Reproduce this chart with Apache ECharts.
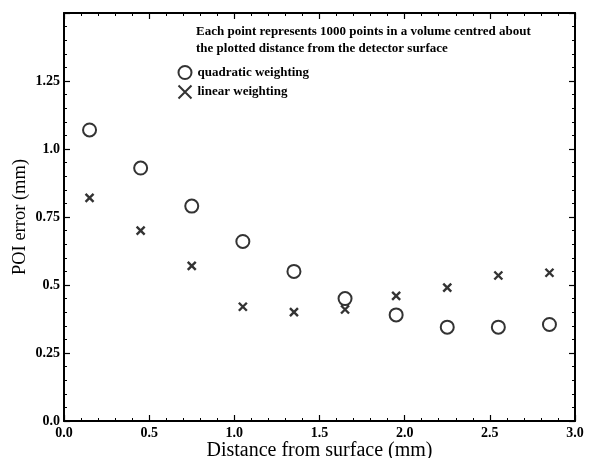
<!DOCTYPE html>
<html>
<head>
<meta charset="utf-8">
<script src="https://cdn.jsdelivr.net/npm/echarts@6/dist/echarts.min.js"></script>
<style>
  html, body { margin: 0; padding: 0; background: #fff; }
  #chart { width: 589px; height: 458px; }
</style>
</head>
<body>
<div id="chart"></div>
<script>
// 数据,照图读出来的
var distance = [0.15, 0.45, 0.75, 1.05, 1.35, 1.65, 1.95, 2.25, 2.55, 2.85];
var quadratic = [1.07, 0.93, 0.79, 0.66, 0.55, 0.45, 0.39, 0.345, 0.345, 0.355];
var linear = [0.82, 0.70, 0.57, 0.42, 0.40, 0.41, 0.46, 0.49, 0.535, 0.545];
var xTickLabels = ['0.0', '0.5', '1.0', '1.5', '2.0', '2.5', '3.0'];
var yTickLabels = ['0.0', '0.25', '0.5', '0.75', '1.0', '1.25', ''];

var font = '"Liberation Serif", "DejaVu Serif", serif';
var crossPath = 'path://M0,0L10,10M10,0L0,10';

function pairs(xs, ys) {
  return xs.map(function (x, i) { return [x, ys[i]]; });
}

var myChart = echarts.init(document.getElementById('chart'));

// 四周都有刻度,朝里
function boxAxis(extra) {
  var ax = {
    min: 0,
    axisLine: { show: true, onZero: false, lineStyle: { color: '#000', width: 2 } },
    axisTick: { show: true, inside: true, length: 6, lineStyle: { color: '#000', width: 1.2 } },
    minorTick: { show: true, splitNumber: 5, length: 3, lineStyle: { color: '#000', width: 1 } },
    splitLine: { show: false }
  };
  return Object.assign(ax, extra);
}

myChart.setOption({
  animation: false,
  backgroundColor: '#fff',
  textStyle: { fontFamily: font },
  grid: { left: 64, right: 14, top: 13, bottom: 37, outerBoundsMode: 'none', containLabel: false },
  legend: {
    orient: 'vertical',
    left: 171,
    top: 60,
    itemGap: 3,
    itemWidth: 15,
    itemHeight: 13,
    textStyle: { fontFamily: font, fontSize: 13, fontWeight: 'bold', color: '#000' },
    data: ['quadratic weighting', 'linear weighting']
  },
  graphic: [{
    type: 'text',
    left: 196,
    top: 23,
    style: {
      text: 'Each point represents 1000 points in a volume centred about\nthe plotted distance from the detector surface',
      font: 'bold 13px ' + font,
      lineHeight: 17,
      fill: '#000'
    }
  }],
  xAxis: [
    boxAxis({
      type: 'value', max: 3, interval: 0.5, position: 'bottom',
      name: 'Distance from surface (mm)', nameLocation: 'middle', nameGap: 20,
      nameMoveOverlap: false,
      nameTextStyle: { fontFamily: font, fontSize: 20, color: '#000' },
      axisLabel: {
        color: '#000', fontFamily: font, fontSize: 14, fontWeight: 'bold', margin: 5,
        formatter: function (v) { return xTickLabels[Math.round(v / 0.5)]; }
      }
    }),
    boxAxis({ type: 'value', max: 3, interval: 0.5, position: 'top', axisLabel: { show: false } })
  ],
  yAxis: [
    boxAxis({
      type: 'value', max: 1.5, interval: 0.25, position: 'left',
      name: 'POI error (mm)', nameLocation: 'middle', nameGap: 34,
      nameMoveOverlap: false,
      nameTextStyle: { fontFamily: font, fontSize: 18.5, color: '#000' },
      axisLabel: {
        color: '#000', fontFamily: font, fontSize: 14, fontWeight: 'bold', margin: 4,
        formatter: function (v) { return yTickLabels[Math.round(v / 0.25)]; }
      }
    }),
    boxAxis({ type: 'value', max: 1.5, interval: 0.25, position: 'right', axisLabel: { show: false } })
  ],
  series: [
    {
      name: 'quadratic weighting',
      type: 'scatter',
      symbol: 'emptyCircle',
      symbolSize: 13,
      itemStyle: { color: '#000', borderColor: '#000', borderWidth: 3 },
      data: pairs(distance, quadratic)
    },
    {
      name: 'linear weighting',
      type: 'scatter',
      symbol: crossPath,
      symbolSize: 8,
      itemStyle: { color: 'none', borderColor: '#000', borderWidth: 2.4 },
      data: pairs(distance, linear)
    }
  ]
});
</script>
</body>
</html>
